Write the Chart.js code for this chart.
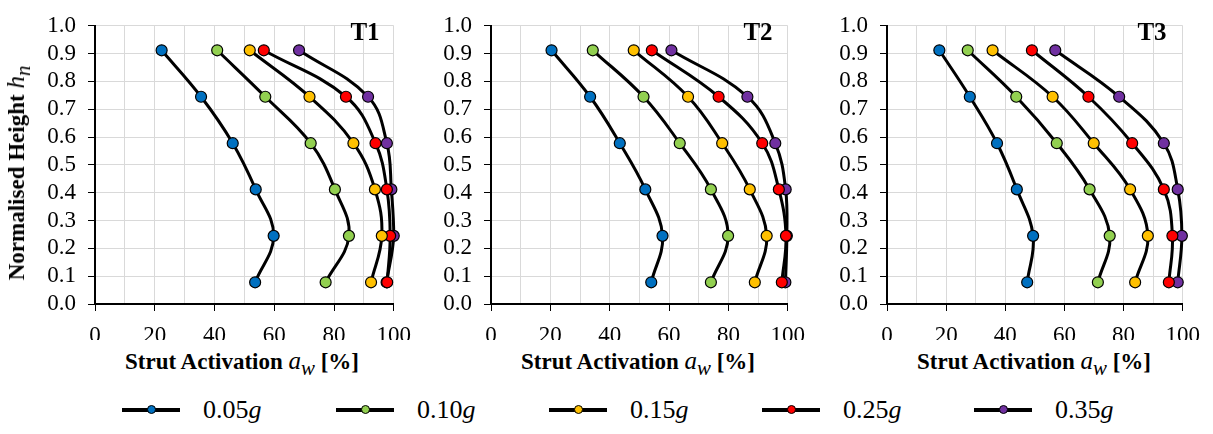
<!DOCTYPE html>
<html>
<head>
<meta charset="utf-8">
<script src="https://cdn.jsdelivr.net/npm/chart.js@4/dist/chart.umd.min.js"></script>
<style>
  body { margin: 0; background: #fff; font-family: 'Liberation Serif', serif; }
  #wrap { position: relative; width: 1213px; height: 434px; overflow: hidden; font-family: 'Liberation Serif', serif; }
  canvas { position: absolute; top: 0; }
  .xtitle { position: absolute; top: 347px; font-weight: bold; font-size: 23px; white-space: nowrap; transform: translateX(-50%); }
  .xtitle i, .ytitle i { font-weight: normal; font-size: 25px; }
  .ytitle { position: absolute; left: 19px; top: 173px; font-weight: bold; font-size: 23px; white-space: nowrap;
            transform: translate(-50%, -50%) rotate(-90deg); }
  .tag { position: absolute; top: 18px; font-weight: bold; font-size: 25px; transform: translateX(-50%); }
  .leg { position: absolute; top: 395px; height: 30px; display: flex; align-items: center; font-size: 26px; }
  .leg .ln { position: relative; width: 58px; height: 4px; background: #000; margin-right: 23px; }
  .leg .dot { position: absolute; left: 25px; top: -3.5px; width: 9px; height: 9px; border-radius: 50%; border: 1px solid #000; box-sizing: border-box; }
</style>
</head>
<body>
<div id="wrap">
  <canvas id="c1" width="397" height="340" style="left:25px"></canvas>
  <canvas id="c2" width="395" height="340" style="left:421px"></canvas>
  <canvas id="c3" width="394" height="340" style="left:817px"></canvas>
  <div class="ytitle">Normalised Height <i>h<sub>n</sub></i></div>
  <div class="xtitle" style="left:242px">Strut Activation <i>a<sub>w</sub></i> [%]</div>
  <div class="xtitle" style="left:638px">Strut Activation <i>a<sub>w</sub></i> [%]</div>
  <div class="xtitle" style="left:1034px">Strut Activation <i>a<sub>w</sub></i> [%]</div>
  <div class="tag" style="left:365px">T1</div>
  <div class="tag" style="left:758px">T2</div>
  <div class="tag" style="left:1152px">T3</div>
  <div id="legend"></div>
</div>
<script>
// alturas normalizadas (de abajo hacia arriba)
const heights = [0.078, 0.245, 0.412, 0.578, 0.745, 0.912];

const seriesNames = ['0.05', '0.10', '0.15', '0.25', '0.35'];
const seriesColors = ['#0070C0', '#92D050', '#FFC000', '#FF0000', '#7030A0'];

// activacion del puntal [%] - T1
const t1_005 = [53.6, 59.8, 53.8, 46.1, 35.5, 22.3];
const t1_010 = [77.2, 85.0, 80.3, 72.2, 57.0, 40.9];
const t1_015 = [92.4, 96.0, 93.7, 86.5, 71.8, 51.8];
const t1_025 = [97.8, 98.8, 97.7, 93.9, 84.0, 56.5];
const t1_035 = [97.6, 100.0, 99.2, 97.7, 91.4, 68.3];

// T2
const t2_005 = [54.0, 57.8, 52.0, 43.4, 33.4, 20.4];
const t2_010 = [74.1, 79.9, 74.1, 63.6, 51.4, 34.3];
const t2_015 = [88.9, 92.9, 87.2, 77.9, 66.4, 48.1];
const t2_025 = [98.0, 99.4, 97.0, 91.4, 76.7, 54.2];
const t2_035 = [99.2, 99.7, 99.3, 95.8, 86.4, 60.8];

// T3
const t3_005 = [47.4, 49.4, 43.9, 37.2, 28.0, 17.7];
const t3_010 = [71.3, 75.3, 68.5, 57.4, 43.7, 27.3];
const t3_015 = [83.9, 88.2, 82.2, 69.9, 56.0, 35.7];
const t3_025 = [95.3, 96.5, 93.6, 82.9, 68.1, 49.0];
const t3_035 = [98.3, 99.7, 98.3, 93.6, 78.5, 56.9];

const xTicks = [0, 20, 40, 60, 80, 100];

const fuente = { family: "'Liberation Serif', serif", size: 23 };

function crearGrafico(id, series) {
    const datasets = series.map((vals, k) => ({
        label: seriesNames[k] + 'g',
        data: heights.map((h, i) => ({ x: vals[i], y: h })),
        showLine: true,
        tension: 0.4,
        borderColor: '#000',
        borderWidth: 3,
        pointRadius: 5.5,
        pointHoverRadius: 5.5,
        pointBorderWidth: 1.2,
        pointBorderColor: '#000',
        pointBackgroundColor: seriesColors[k],
        clip: false
    }));

    new Chart(document.getElementById(id), {
        type: 'scatter',
        data: { datasets: datasets },
        options: {
            responsive: false,
            animation: false,
            layout: { padding: { top: 17, right: 28, left: 0, bottom: 0 } },
            scales: {
                x: {
                    min: 0, max: 100,
                    afterFit: (s) => { s.height = 36; },
                    ticks: {
                        stepSize: 10,
                        autoSkip: false,
                        maxRotation: 0,
                        padding: 11,
                        color: '#000',
                        font: fuente,
                        callback: (v) => xTicks.includes(v) ? String(v) : ''
                    },
                    grid: {
                        color: '#d9d9d9',
                        tickLength: 7,
                        tickColor: (ctx) => (ctx.tick && ctx.tick.value % 20 === 0) ? '#000' : 'rgba(0,0,0,0)'
                    },
                    border: { color: '#000', width: 2 }
                },
                y: {
                    min: 0, max: 1,
                    afterFit: (s) => { s.width = 70; },
                    ticks: {
                        stepSize: 0.1,
                        autoSkip: false,
                        padding: 12,
                        color: '#000',
                        font: fuente,
                        callback: (v) => v.toFixed(1)
                    },
                    grid: { color: '#d9d9d9', tickLength: 7, tickColor: '#000' },
                    border: { color: '#000', width: 2 }
                }
            },
            plugins: {
                legend: { display: false },
                tooltip: { enabled: false }
            }
        }
    });
}

crearGrafico('c1', [t1_005, t1_010, t1_015, t1_025, t1_035]);
crearGrafico('c2', [t2_005, t2_010, t2_015, t2_025, t2_035]);
crearGrafico('c3', [t3_005, t3_010, t3_015, t3_025, t3_035]);

// leyenda comun
const legendLeft = [122, 336, 549, 762, 974];
const legend = document.getElementById('legend');
seriesNames.forEach((n, k) => {
    const item = document.createElement('div');
    item.className = 'leg';
    item.style.left = legendLeft[k] + 'px';
    item.innerHTML = `<span class="ln"><span class="dot" style="background:${seriesColors[k]}"></span></span><span>${n}<i>g</i></span>`;
    legend.appendChild(item);
});
</script>
</body>
</html>
